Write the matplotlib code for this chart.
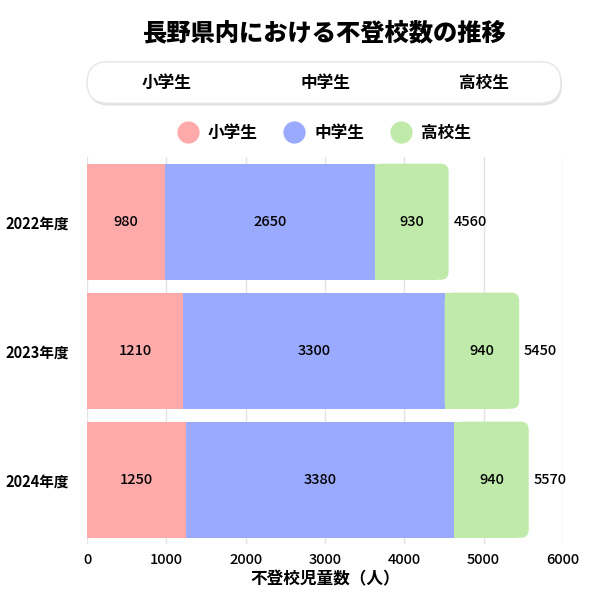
import matplotlib
matplotlib.use('Agg')
import matplotlib.pyplot as plt
from matplotlib.patches import FancyBboxPatch, Rectangle
from matplotlib.lines import Line2D

plt.rcParams['font.family'] = ['Noto Sans CJK JP', 'DejaVu Sans']

# データ
years = ['2022年度', '2023年度', '2024年度']
groups = ['小学生', '中学生', '高校生']
elementary = [980, 1210, 1250]
junior = [2650, 3300, 3380]
high = [930, 940, 940]
colors = ['#ffaaaa', '#9aabff', '#c0eaaa']

fig = plt.figure(figsize=(6, 6), dpi=100)
ax = fig.add_axes([0.145, 0.093, 0.793, 0.645])

series = [elementary, junior, high]
bar_h = 0.9
ax.set_xlim(0, 6000)
ax.set_ylim(2.5, -0.5)

for i, year in enumerate(years):
    left = 0
    for j, vals in enumerate(series):
        v = vals[i]
        if j < len(series) - 1:
            ax.barh(i, v, left=left, height=bar_h, color=colors[j], zorder=2)
        else:
            # 右端だけ角丸
            r = 100
            asp = 0.062 / r
            ax.add_patch(FancyBboxPatch((left, i - bar_h / 2), v, bar_h,
                                        boxstyle=f'round,pad=0,rounding_size={r}',
                                        mutation_aspect=asp, fc=colors[j], ec='none', zorder=2))
            ax.add_patch(Rectangle((left, i - bar_h / 2), v - r * 1.5, bar_h,
                                   fc=colors[j], ec='none', zorder=2))
        ax.text(left + v / 2, i, str(v), ha='center', va='center', fontsize=10.5,
                fontweight='medium', zorder=3)
        left += v
    ax.text(left + 60, i, str(left), ha='left', va='center', fontsize=10.5,
            fontweight='medium', zorder=3)

ax.set_yticks(range(len(years)))
ax.set_yticklabels(years, fontsize=10.5, fontweight='bold')
ax.set_xticks(range(0, 6001, 1000))
ax.tick_params(axis='x', labelsize=10.5, length=0, pad=6)
ax.tick_params(axis='y', length=0, pad=13)
for lab in ax.get_xticklabels():
    lab.set_fontweight('medium')
ax.grid(axis='x', color='#e3e3e3', linewidth=1, zorder=0)
for s in ax.spines.values():
    s.set_visible(False)
ax.set_xlabel('不登校児童数（人）', fontsize=12, fontweight='bold', labelpad=3)

# タイトル
fig.text(0.541, 0.945, '長野県内における不登校数の推移', ha='center', va='center',
         fontsize=17.5, fontweight='heavy')

# 上部のボックス
shadow = FancyBboxPatch((0.147, 0.824), 0.79, 0.069, boxstyle='round,pad=0,rounding_size=0.035',
                        transform=fig.transFigure, fc='#d0d0d0', ec='none', alpha=0.6)
box = FancyBboxPatch((0.145, 0.828), 0.79, 0.069, boxstyle='round,pad=0,rounding_size=0.035',
                     transform=fig.transFigure, fc='white', ec='#e6e6e6', lw=1)
fig.patches.extend([shadow, box])
for g, x in zip(groups, [0.278, 0.543, 0.807]):
    fig.text(x, 0.862, g, ha='center', va='center', fontsize=12, fontweight='bold')

# 凡例
handles = [Line2D([], [], marker='o', ls='none', markersize=16, markerfacecolor=c,
                  markeredgecolor='none') for c in colors]
leg = fig.legend(handles, groups, loc='center', bbox_to_anchor=(0.535, 0.778), ncol=3,
                 frameon=False, handletextpad=0.2, columnspacing=1.2,
                 prop={'size': 12, 'weight': 'bold'})

fig.savefig('out.png', dpi=100)
